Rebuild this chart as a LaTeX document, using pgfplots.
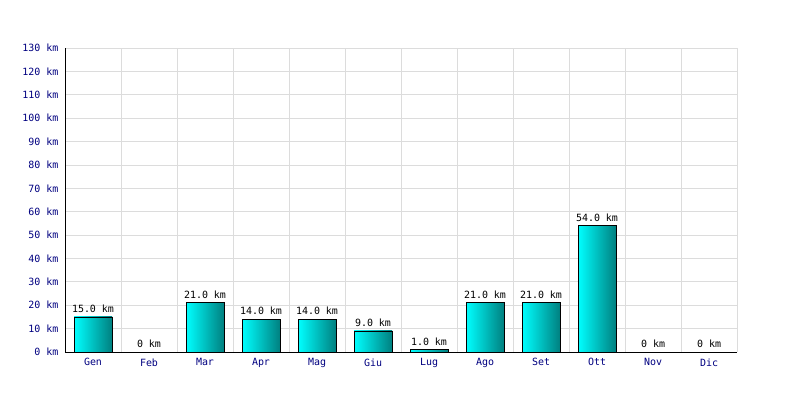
\documentclass[border=0pt]{standalone}
\usepackage{fontspec}
\setmainfont{DejaVu Sans Mono}
\setmonofont{DejaVu Sans Mono}
\usepackage{pgfplots}
\pgfplotsset{compat=1.18}
\usepackage{pgfplotstable}

\definecolor{gridgray}{RGB}{220,220,220}
\definecolor{ticknavy}{RGB}{0,0,128}
\definecolor{barlight}{RGB}{0,255,255}
\definecolor{bardark}{RGB}{0,128,128}

\pgfplotstableread{
x  km  lab
0  15  {15.0 km}
1  0   {0 km}
2  21  {21.0 km}
3  14  {14.0 km}
4  14  {14.0 km}
5  9   {9.0 km}
6  1   {1.0 km}
7  21  {21.0 km}
8  21  {21.0 km}
9  54  {54.0 km}
10 0   {0 km}
11 0   {0 km}
}\kmdata

\begin{document}
\begin{tikzpicture}
\useasboundingbox (0,0) rectangle (800bp,400bp);
\begin{axis}[
  at={(65bp,48bp)}, anchor=south west,
  scale only axis,
  width=672bp, height=304bp,
  xmin=-0.5, xmax=11.5,
  ymin=0, ymax=130,
  xtick={0,...,11},
  xticklabels={Gen,Feb,Mar,Apr,Mag,Giu,Lug,Ago,Set,Ott,Nov,Dic},
  minor xtick={0.5,1.5,...,11.5},
  xminorgrids,
  ytick={0,10,...,130},
  yticklabel={\pgfmathprintnumber{\tick} km},
  ymajorgrids,
  grid style={gridgray, line width=0.8pt},
  minor grid style={gridgray, line width=0.8pt},
  axis lines=left,
  axis line style={-, black, line width=0.8pt},
  major tick length=0pt, minor tick length=0pt,
  tick label style={font=\fontsize{10}{12}\selectfont, text=ticknavy},
  /pgf/number format/assume math mode=true,
  yticklabel style={xshift=-3bp},
  xticklabel style={yshift=-3bp},
  nodes near coords,
  point meta=explicit symbolic,
  every node near coord/.append style={font=\fontsize{10}{12}\selectfont, text=black, inner sep=2bp, yshift=2bp},
  clip=false,
]
\pgfplotsinvokeforeach{0,...,11}{
  \addplot[ybar, bar width=38bp, draw=black, line width=0.8pt,
    left color=barlight, right color=bardark,
    restrict x to domain=#1:#1]
    table[x=x, y=km, meta=lab] {\kmdata};
}
\end{axis}
\end{tikzpicture}
\end{document}
